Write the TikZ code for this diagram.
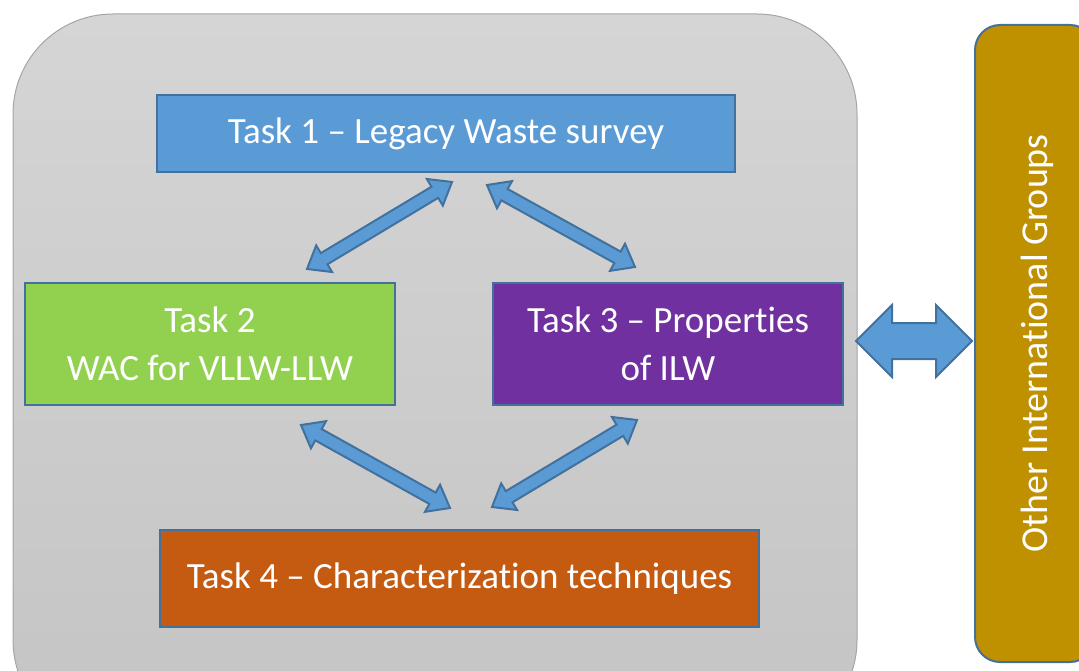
\documentclass[tikz,border=0pt]{standalone}
\usepackage{fontspec}
\setmainfont{Carlito}[Ligatures={NoCommon}]
\usetikzlibrary{calc}
\definecolor{tblue}{HTML}{5B9BD5}
\definecolor{tborder}{HTML}{41719C}
\definecolor{tgreen}{HTML}{92D050}
\definecolor{tpurple}{HTML}{7030A0}
\definecolor{torange}{HTML}{C55A11}
\definecolor{tgold}{HTML}{BF9000}
\definecolor{bgtop}{RGB}{213,213,213}
\definecolor{bgbot}{RGB}{196,196,196}
\definecolor{bgline}{RGB}{165,165,165}
% #1 from, #2 to, #3 shaft half width, #4 head half width, #5 head length
\newcommand\blockarrow[5]{%
  \draw[blockarr] let \p1=($(#2)-(#1)$), \n1={atan2(\y1,\x1)} in
    (#1)
    -- ($(#1)+(\n1:#5)+(\n1+90:#4)$)
    -- ($(#1)+(\n1:#5)+(\n1+90:#3)$)
    -- ($(#2)-(\n1:#5)+(\n1+90:#3)$)
    -- ($(#2)-(\n1:#5)+(\n1+90:#4)$)
    -- (#2)
    -- ($(#2)-(\n1:#5)-(\n1+90:#4)$)
    -- ($(#2)-(\n1:#5)-(\n1+90:#3)$)
    -- ($(#1)+(\n1:#5)-(\n1+90:#3)$)
    -- ($(#1)+(\n1:#5)-(\n1+90:#4)$)
    -- cycle;}
\begin{document}
\begin{tikzpicture}[x=1pt,y=-1pt,
  task/.style={draw=tborder, line width=2pt, text=white, align=center,
    font=\fontsize{37}{48}\selectfont, inner sep=0pt},
  blockarr/.style={draw=tborder, fill=tblue, line width=2pt, line join=miter}
]
\useasboundingbox (0,0) rectangle (1079,671);
\begin{scope}
\clip (0,0) rectangle (1079,671);
\draw[bgline, line width=1pt, top color=bgtop, bottom color=bgbot, rounded corners=100pt]
  (13,14) rectangle (857,740);

\node[task, fill=tblue, minimum width=578pt, minimum height=77pt] (t1) at (446,133.5)
  {Task 1 -- Legacy Waste survey};
\node[task, fill=tgreen, minimum width=370pt, minimum height=122pt] (t2) at (210,344)
  {Task 2\\WAC for VLLW-LLW};
\node[task, fill=tpurple, minimum width=350pt, minimum height=122pt] (t3) at (668,344)
  {Task 3 -- Properties\\of ILW};
\node[task, fill=torange, minimum width=599pt, minimum height=97pt] (t4) at (459.5,578.5)
  {Task 4 -- Characterization techniques};

\node[draw=tborder, line width=2pt, fill=tgold, rounded corners=25pt,
  minimum width=120pt, minimum height=637pt, inner sep=0pt] (og) at (1035,343.5) {};
\node[text=white, rotate=90, font=\fontsize{38}{44}\selectfont] (ogt) at (1037,343.5)
  {Other International Groups};

\coordinate (a1s) at (307,269); \coordinate (a1e) at (452,182);
\coordinate (a2s) at (487,185); \coordinate (a2e) at (635,267);
\coordinate (a3s) at (301,425); \coordinate (a3e) at (450,508);
\coordinate (a4s) at (637,420); \coordinate (a4e) at (492,507);
\coordinate (hs) at (856,341); \coordinate (he) at (972,341);

\blockarrow{a1s}{a1e}{6.5pt}{15.5pt}{20pt}
\blockarrow{a2s}{a2e}{6.5pt}{15.5pt}{20pt}
\blockarrow{a3s}{a3e}{6.5pt}{15.5pt}{20pt}
\blockarrow{a4s}{a4e}{6.5pt}{15.5pt}{20pt}
\blockarrow{hs}{he}{18pt}{36pt}{36pt}
\end{scope}
\end{tikzpicture}
\end{document}
